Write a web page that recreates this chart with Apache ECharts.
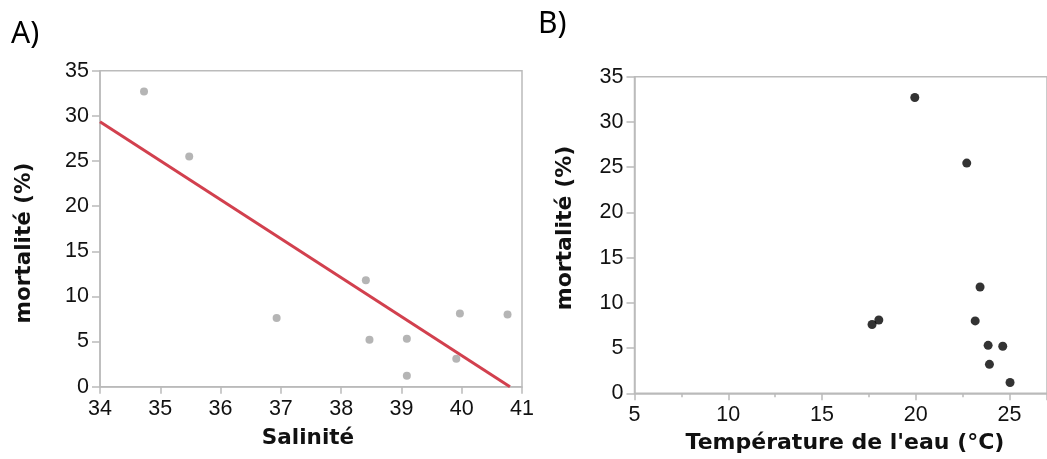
<!DOCTYPE html>
<html>
<head>
<meta charset="utf-8">
<script src="https://cdn.jsdelivr.net/npm/echarts@6/dist/echarts.min.js"></script>
<style>
html,body{margin:0;padding:0;background:#fff;}
#c{width:1047px;height:459px;}
</style>
</head>
<body>
<div id="c"></div>
<script>
// Panel A: salinity vs mortality
const salinite = [34.73, 35.48, 36.93, 38.41, 38.47, 39.09, 39.09, 39.91, 39.97, 40.76];
const mortaliteA = [32.7, 25.5, 7.6, 11.8, 5.2, 5.3, 1.2, 3.1, 8.1, 8.0];
// regression line endpoints
const fitX = [34, 40.8];
const fitY = [29.35, 0];
// Panel B: water temperature vs mortality
const temperature = [19.95, 22.72, 17.67, 18.03, 23.43, 23.17, 23.86, 24.64, 23.93, 25.03];
const mortaliteB = [32.7, 25.45, 7.6, 8.1, 11.75, 8.0, 5.3, 5.2, 3.2, 1.2];

const pairs = (xs, ys) => xs.map((x, i) => [x, ys[i]]);

const chart = echarts.init(document.getElementById('c'));
const axisLineStyle = {color: '#bbbbbb', width: 1.5};
const labelFont = 'Liberation Sans';

chart.setOption({
  animation: false,
  backgroundColor: '#ffffff',
  grid: [
    {left: 100, top: 70.7, width: 422, height: 316, show: true, borderColor: '#bbbbbb', borderWidth: 1.5, backgroundColor: 'transparent'},
    {left: 634.5, top: 76.7, width: 414, height: 316.6, show: true, borderColor: '#bbbbbb', borderWidth: 1.5, backgroundColor: 'transparent'}
  ],
  xAxis: [
    {
      gridIndex: 0, type: 'value', min: 34, max: 41, interval: 1,
      axisLine: {show: true, lineStyle: axisLineStyle},
      axisTick: {show: true, inside: false, length: 7, lineStyle: axisLineStyle},
      splitLine: {show: false},
      axisLabel: {color: '#111', fontFamily: labelFont, fontSize: 21.5, margin: 11}
    },
    {
      gridIndex: 1, type: 'value', min: 5, max: 27, interval: 5,
      axisLine: {show: true, lineStyle: axisLineStyle},
      axisTick: {show: true, inside: false, length: 7, lineStyle: axisLineStyle},
      minorTick: {show: true, splitNumber: 2, length: 4, lineStyle: axisLineStyle},
      splitLine: {show: false},
      axisLabel: {color: '#111', fontFamily: labelFont, fontSize: 21.5, margin: 11, showMaxLabel: false}
    }
  ],
  yAxis: [
    {
      gridIndex: 0, type: 'value', min: 0, max: 35, interval: 5,
      axisLine: {show: true, lineStyle: axisLineStyle},
      axisTick: {show: true, inside: false, length: 8, lineStyle: axisLineStyle},
      splitLine: {show: false},
      axisLabel: {color: '#111', fontFamily: labelFont, fontSize: 21.5, margin: 11}
    },
    {
      gridIndex: 1, type: 'value', min: 0, max: 35, interval: 5,
      axisLine: {show: true, lineStyle: axisLineStyle},
      axisTick: {show: true, inside: false, length: 8, lineStyle: axisLineStyle},
      splitLine: {show: false},
      axisLabel: {color: '#111', fontFamily: labelFont, fontSize: 21.5, margin: 11}
    }
  ],
  series: [
    {
      type: 'line', xAxisIndex: 0, yAxisIndex: 0,
      data: pairs(fitX, fitY), showSymbol: false, symbol: 'none',
      lineStyle: {color: '#d2404e', width: 3}, z: 3
    },
    {
      type: 'scatter', xAxisIndex: 0, yAxisIndex: 0,
      data: pairs(salinite, mortaliteA), symbolSize: 8,
      itemStyle: {color: '#a3a3a3'}, z: 4
    },
    {
      type: 'scatter', xAxisIndex: 1, yAxisIndex: 1,
      data: pairs(temperature, mortaliteB), symbolSize: 9,
      itemStyle: {color: '#000000'}, z: 4
    }
  ],
  graphic: [
    {type: 'text', left: 11, top: 19, style: {text: 'A)', font: '30px "Noto Sans"', fill: '#000'}},
    {type: 'text', left: 538, top: 9, style: {text: 'B)', font: '30px "Noto Sans"', fill: '#000'}},
    {type: 'text', x: 308, y: 438, style: {text: 'Salinité', font: 'bold 21.5px "DejaVu Sans"', fill: '#111', align: 'center', verticalAlign: 'middle'}},
    {type: 'text', x: 24, y: 243, rotation: Math.PI / 2, style: {text: 'mortalité (%)', font: 'bold 21.5px "DejaVu Sans"', fill: '#111', align: 'center', verticalAlign: 'middle'}},
    {type: 'text', x: 845, y: 443, style: {text: "Température de l'eau (°C)", font: 'bold 22px "DejaVu Sans"', fill: '#111', align: 'center', verticalAlign: 'middle'}},
    {type: 'text', x: 565, y: 228, rotation: Math.PI / 2, style: {text: 'mortalité (%)', font: 'bold 22px "DejaVu Sans"', fill: '#111', align: 'center', verticalAlign: 'middle'}}
  ]
});
</script>
</body>
</html>
